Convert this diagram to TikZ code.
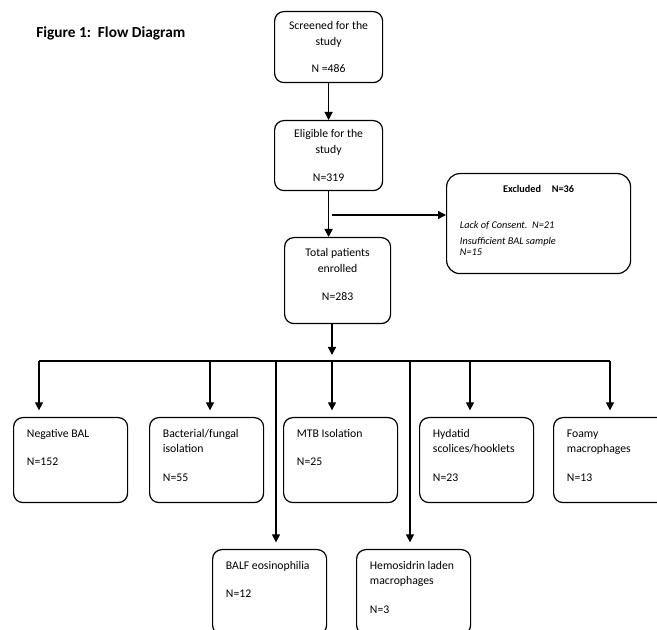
\documentclass[tikz,border=0pt]{standalone}
\usepackage{fontspec}
\setmainfont{Carlito}
\usetikzlibrary{arrows.meta}

\newcommand{\cellbox}[3]{\begin{minipage}[c][#1][t]{#2}#3\end{minipage}}

\tikzset{
  flowbox/.style={draw, line width=0.9pt, rounded corners=7pt, inner sep=0pt,
    anchor=north west, font=\fontsize{8.8}{11.7}\selectfont},
  arr/.style={line width=1pt, -{Triangle[length=6pt,width=6pt]}},
  feed/.style={line width=1pt},
}

\begin{document}
\begin{tikzpicture}[x=0.75pt,y=-0.75pt]
\useasboundingbox (0,0) rectangle (657,630);
\clip (0,0) rectangle (657,630);

% title
\node[anchor=west, inner sep=0pt, font=\bfseries\fontsize{11.5}{14}\selectfont] (title) at (36,33) {Figure 1:\ \ Flow Diagram};

% main column
\node[flowbox] (screened) at (274,11) {\cellbox{53.25pt}{81pt}{\centering\rule{0pt}{13.5pt}Screened for the\\study\\[9pt]N =486}};
\node[flowbox] (eligible) at (274,120) {\cellbox{52.5pt}{81pt}{\centering\rule{0pt}{13pt}Eligible for the\\study\\[9pt]N=319}};
\node[flowbox] (total) at (284,237) {\cellbox{64.5pt}{79.5pt}{\centering\rule{0pt}{14.5pt}Total patients\\enrolled\\[9pt]N=283}};
\node[flowbox, rounded corners=10pt, font=\fontsize{7.7}{10.5}\selectfont] (excluded) at (446,173) {\cellbox{75pt}{138pt}{\centering\rule{0pt}{14pt}\textbf{Excluded\hspace{8pt}N=36}\par
  \raggedright\leftskip=10pt\itshape\rule{0pt}{26pt}Lack of Consent.\ \ N=21\\[1.5pt]Insufficient BAL sample\\[-2.2pt]N=15}};

% outcome boxes
\node[flowbox] (neg) at (13,417) {\cellbox{63.75pt}{85.5pt}{\raggedright\leftskip=10pt\rule{0pt}{14.7pt}Negative BAL\\[9.5pt]N=152}};
\node[flowbox] (bact) at (149,417) {\cellbox{63.75pt}{85.5pt}{\raggedright\leftskip=10pt\rule{0pt}{14.7pt}Bacterial/fungal\\isolation\\[9.5pt]N=55}};
\node[flowbox] (mtb) at (283,417) {\cellbox{63.75pt}{85.5pt}{\raggedright\leftskip=10pt\rule{0pt}{14.7pt}MTB Isolation\\[9.5pt]N=25}};
\node[flowbox] (hyd) at (419,417) {\cellbox{63.75pt}{85.5pt}{\raggedright\leftskip=10pt\rule{0pt}{14.7pt}Hydatid\\scolices/hooklets\\[9.5pt]N=23}};
\node[flowbox] (foamy) at (553,417) {\cellbox{63.75pt}{85.5pt}{\raggedright\leftskip=10pt\rule{0pt}{14.7pt}Foamy\\macrophages\\[9.5pt]N=13}};
\node[flowbox] (balf) at (212,549) {\cellbox{63.75pt}{85.5pt}{\raggedright\leftskip=10pt\rule{0pt}{14.7pt}BALF eosinophilia\\[9.5pt]N=12}};
\node[flowbox] (hemo) at (356,549) {\cellbox{63.75pt}{85.5pt}{\raggedright\leftskip=10pt\rule{0pt}{14.7pt}Hemosidrin laden\\macrophages\\[9.5pt]N=3}};

% connectors
\draw[arr] (screened.south) -- (eligible.north);
\draw[arr, line width=1.3pt] (eligible.south) -- (eligible.south |- total.north);
\coordinate (split) at (332,215);
\draw[arr] (split) -- (split -| excluded.west);
\coordinate (bus) at (332,361);
\draw[arr, shorten >=4.5pt] (bus |- total.south) -- (bus);
\draw[feed] (39,361) coordinate (busL) -- (610,361) coordinate (busR);
\foreach \name/\x in {neg/39, bact/210, mtb/332, hyd/470, foamy/610, balf/276, hemo/410}
{
  \coordinate (drop) at (\x,361);
  \draw[arr, shorten >=5pt] (drop) -- (drop |- \name.north);
}
\end{tikzpicture}
\end{document}
